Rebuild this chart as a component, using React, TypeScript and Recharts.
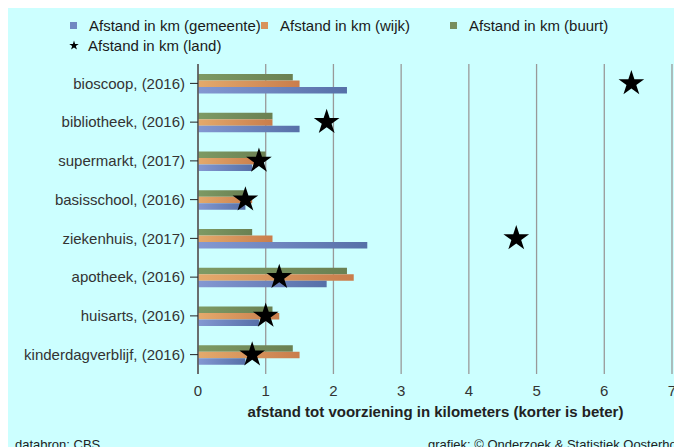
import React from 'react';
import { ComposedChart, Bar, Line, XAxis, YAxis, CartesianGrid } from 'recharts';

const categories = [
  'bioscoop, (2016)',
  'bibliotheek, (2016)',
  'supermarkt, (2017)',
  'basisschool, (2016)',
  'ziekenhuis, (2017)',
  'apotheek, (2016)',
  'huisarts, (2016)',
  'kinderdagverblijf, (2016)',
];
const gemeente = [2.2, 1.5, 0.8, 0.7, 2.5, 1.9, 0.9, 0.7];
const wijk = [1.5, 1.1, 0.9, 0.8, 1.1, 2.3, 1.2, 1.5];
const buurt = [1.4, 1.1, 1.0, 0.7, 0.8, 2.2, 1.1, 1.4];
const land = [6.4, 1.9, 0.9, 0.7, 4.7, 1.2, 1.0, 0.8];
const xTicks = [0, 1, 2, 3, 4, 5, 6, 7];

const seriesNames = {
  gemeente: 'Afstand in km (gemeente)',
  wijk: 'Afstand in km (wijk)',
  buurt: 'Afstand in km (buurt)',
  land: 'Afstand in km (land)',
};

const data = categories.map((cat, i) => ({
  cat,
  gemeente: gemeente[i],
  wijk: wijk[i],
  buurt: buurt[i],
  land: land[i],
}));

const FONT = '"Liberation Sans", Arial, Helvetica, sans-serif';

function starPoints(cx: number, cy: number, R: number) {
  const r = R * 0.382;
  const pts: string[] = [];
  for (let k = 0; k < 10; k++) {
    const rad = k % 2 === 0 ? R : r;
    const a = -Math.PI / 2 + (k * Math.PI) / 5;
    pts.push(`${cx + rad * Math.cos(a)},${cy + rad * Math.sin(a)}`);
  }
  return pts.join(' ');
}

const StarDot = (props: any) => {
  const { cx, cy, index } = props;
  if (cx == null || cy == null) return <g key={`s${index}`} />;
  return <polygon key={`s${index}`} points={starPoints(cx, cy, 13.5)} fill="#000" />;
};

const LegendBlock = () => {
  const item = (left: number, top: number, icon: React.ReactNode, text: string) => (
    <div style={{ position: 'absolute', left, top, height: 20, display: 'flex', alignItems: 'center', whiteSpace: 'nowrap' }}>
      <div style={{ width: 19, display: 'flex', alignItems: 'center' }}>{icon}</div>
      <span style={{ fontSize: 15, color: '#1a1a1a', fontFamily: FONT }}>{text}</span>
    </div>
  );
  const sq = (c: string) => <div style={{ width: 7, height: 7, background: c }} />;
  return (
    <div style={{ position: 'absolute', left: 0, top: 0, width: 674, height: 60 }}>
      {item(62, 15, sq('#7088c2'), seriesNames.gemeente)}
      {item(253, 15, sq('#d8935a'), seriesNames.wijk)}
      {item(442, 15, sq('#788f5e'), seriesNames.buurt)}
      {item(61, 35, <svg width={10} height={10}><polygon points={starPoints(5, 5.5, 5)} fill="#000" /></svg>, seriesNames.land)}
    </div>
  );
};

export default function App() {
  return (
    <div
      style={{
        marginTop: -8,
        position: 'relative',
        width: 674,
        height: 447,
        background: '#ccffff',
        overflow: 'hidden',
        fontFamily: FONT,
      }}
    >
      <div style={{ position: 'absolute', left: 0, top: 0 }}>
        <ComposedChart
          width={674}
          height={447}
          layout="vertical"
          data={data}
          margin={{ top: 64, right: 10, bottom: 43, left: 0 }}
          barGap={0}
          barSize={6.5}
        >
          <defs>
            <linearGradient id="gBlue" x1="0" y1="0" x2="1" y2="0">
              <stop offset="0%" stopColor="#8498d2" />
              <stop offset="100%" stopColor="#5670a8" />
            </linearGradient>
            <linearGradient id="gOrange" x1="0" y1="0" x2="1" y2="0">
              <stop offset="0%" stopColor="#e4aa6c" />
              <stop offset="100%" stopColor="#c97d4c" />
            </linearGradient>
            <linearGradient id="gGreen" x1="0" y1="0" x2="1" y2="0">
              <stop offset="0%" stopColor="#7e9a64" />
              <stop offset="100%" stopColor="#6a8052" />
            </linearGradient>
          </defs>
          <CartesianGrid horizontal={false} vertical stroke="#999" strokeWidth={1.3} />
          <XAxis
            type="number"
            domain={[0, 7]}
            ticks={xTicks}
            interval={0}
            axisLine={false}
            tickLine={false}
            tickMargin={5}
            height={30}
            tick={{ fontSize: 15, fill: '#333', fontFamily: FONT }}
          />
          <YAxis
            type="category"
            dataKey="cat"
            width={190}
            axisLine={{ stroke: '#555', strokeWidth: 1.5 }}
            tickLine={{ stroke: '#222' }}
            tickSize={8}
            tickMargin={5}
            interval={0}
            tick={{ fontSize: 15, fill: '#333', fontFamily: FONT }}
          />
          <Bar dataKey="buurt" name={seriesNames.buurt} fill="url(#gGreen)" isAnimationActive={false} />
          <Bar dataKey="wijk" name={seriesNames.wijk} fill="url(#gOrange)" isAnimationActive={false} />
          <Bar dataKey="gemeente" name={seriesNames.gemeente} fill="url(#gBlue)" isAnimationActive={false} />
          <Line
            dataKey="land"
            name={seriesNames.land}
            stroke="none"
            dot={StarDot}
            activeDot={false}
            isAnimationActive={false}
          />
        </ComposedChart>
      </div>
      <svg width={674} height={20} style={{ position: 'absolute', left: 0, top: 0 }}>
        <text x={0} y={0} fontSize={30} fontWeight="bold" fill="#000080" fontFamily={FONT}>
          Nabijheid van de voorzieningen
        </text>
      </svg>
      <LegendBlock />
      <div
        style={{
          position: 'absolute',
          left: 190,
          width: 475,
          top: 403,
          textAlign: 'center',
          fontSize: 15,
          fontWeight: 'bold',
          color: '#222',
          whiteSpace: 'nowrap',
        }}
      >
        afstand tot voorziening in kilometers (korter is beter)
      </div>
      <div style={{ position: 'absolute', left: 7, top: 437, fontSize: 13, color: '#222', whiteSpace: 'nowrap' }}>
        databron: CBS
      </div>
      <div style={{ position: 'absolute', left: 420, top: 437, fontSize: 13, color: '#222', whiteSpace: 'nowrap' }}>
        grafiek: © Onderzoek &amp; Statistiek Oosterhout
      </div>
    </div>
  );
}
